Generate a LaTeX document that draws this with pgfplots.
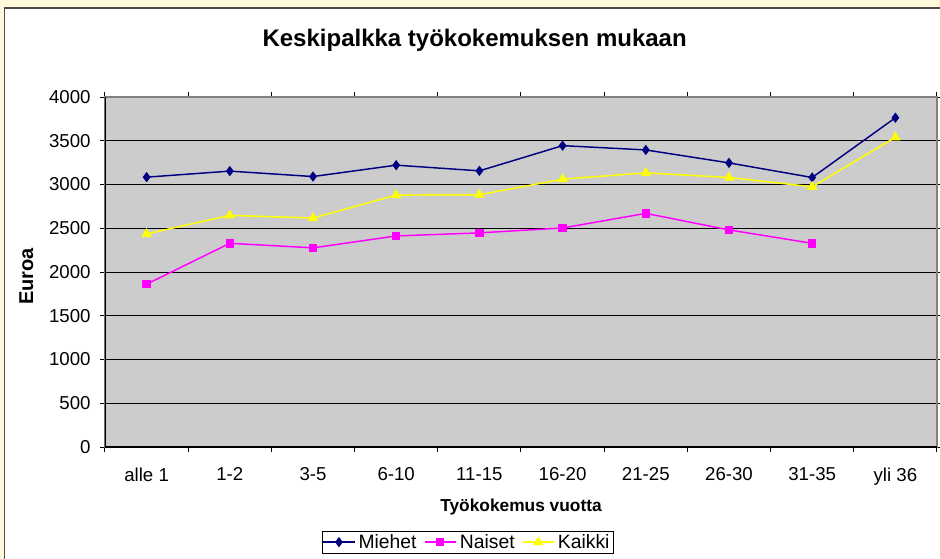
\documentclass[border=0pt]{standalone}
\usepackage{fontspec}
\setmainfont{Liberation Sans}
\usepackage{pgfplots}
\pgfplotsset{compat=1.18}
\definecolor{outerbg}{HTML}{FFF9DA}
\definecolor{plotbg}{HTML}{CCCCCC}
\definecolor{miehet}{HTML}{000080}
\definecolor{naiset}{HTML}{FF00FF}
\definecolor{kaikki}{HTML}{FFFF00}
\begin{document}
\begin{tikzpicture}
\useasboundingbox (0,0) rectangle (705pt,418.5pt);
\fill[outerbg] (0,0) rectangle (705pt,418.5pt);
\draw[fill=white,draw=black!70,line width=1.1pt] (3.4pt,-3pt) rectangle (709pt,412.5pt);
\node[font=\bfseries\fontsize{18}{21}\selectfont] at (356pt,388.5pt) {Keskipalkka työkokemuksen mukaan};
\begin{axis}[
  at={(78.75pt,83.25pt)}, anchor=south west,
  scale only axis, width=624pt, height=262.5pt,
  xmin=-0.5, xmax=9.5, ymin=0, ymax=4000,
  ytick={0,500,1000,1500,2000,2500,3000,3500,4000},
  xtick={-0.5,0.5,1.5,2.5,3.5,4.5,5.5,6.5,7.5,8.5,9.5},
  xticklabels={},
  extra x ticks={0,1,2,3,4,5,6,7,8,9},
  extra x tick labels={alle 1,1-2,3-5,6-10,11-15,16-20,21-25,26-30,31-35,yli 36},
  extra x tick style={major tick length=0pt, grid=none, xticklabel style={yshift=-12pt}},
  tick align=outside, major tick length=3.75pt,
  tick style={black, line width=0.75pt},
  ymajorgrids, major grid style={black, line width=0.75pt},
  axis background/.style={fill=plotbg},
  axis line style={draw=black!50, line width=0.9pt},
  /pgf/number format/assume math mode=true,
  /pgf/number format/1000 sep={},
  tick label style={font=\fontsize{14}{17}\selectfont},
  yticklabel style={xshift=-3.5pt},
  xlabel={Työkokemus vuotta},
  ylabel={Euroa},
  xlabel style={font=\bfseries\fontsize{13}{16}\selectfont, at={(axis description cs:0.5,-0.171)}, anchor=center},
  ylabel style={font=\bfseries\fontsize{15}{18}\selectfont, at={(axis description cs:-0.0945,0.487)}, anchor=center},
  legend columns=3,
  legend style={at={(axis description cs:0.436,-0.303)}, anchor=south,
    draw=black, fill=white, font=\fontsize{14.5}{17}\selectfont,
    inner sep=0.5pt, nodes={inner xsep=2.5pt, inner ysep=1.5pt},
    /tikz/every even column/.append style={column sep=3pt}},
  legend image code/.code={\draw[mark repeat=2,mark phase=2] plot coordinates {(0cm,0cm) (0.41cm,0cm) (0.82cm,0cm)};},
]
\addplot[miehet, line width=1.1pt, mark=diamond*, mark size=3pt, mark options={solid, fill=miehet}]
  coordinates {(0,3084) (1,3153) (2,3091) (3,3221) (4,3156) (5,3444) (6,3395) (7,3247) (8,3080) (9,3763)};
\addlegendentry{Miehet}
\addplot[naiset, line width=1.1pt, mark=square*, mark size=2.6pt, mark options={solid, fill=naiset}]
  coordinates {(0,1861) (1,2328) (2,2276) (3,2412) (4,2447) (5,2503) (6,2670) (7,2481) (8,2328)};
\addlegendentry{Naiset}
\addplot[kaikki, line width=1.1pt, mark=triangle*, mark size=3.4pt, mark options={solid, fill=kaikki}]
  coordinates {(0,2435) (1,2647) (2,2617) (3,2879) (4,2883) (5,3061) (6,3133) (7,3080) (8,2974) (9,3540)};
\addlegendentry{Kaikki}
\draw[black, line width=0.9pt] (rel axis cs:0,1) -- (rel axis cs:0,0) -- (rel axis cs:1,0);
\end{axis}
\end{tikzpicture}
\end{document}
